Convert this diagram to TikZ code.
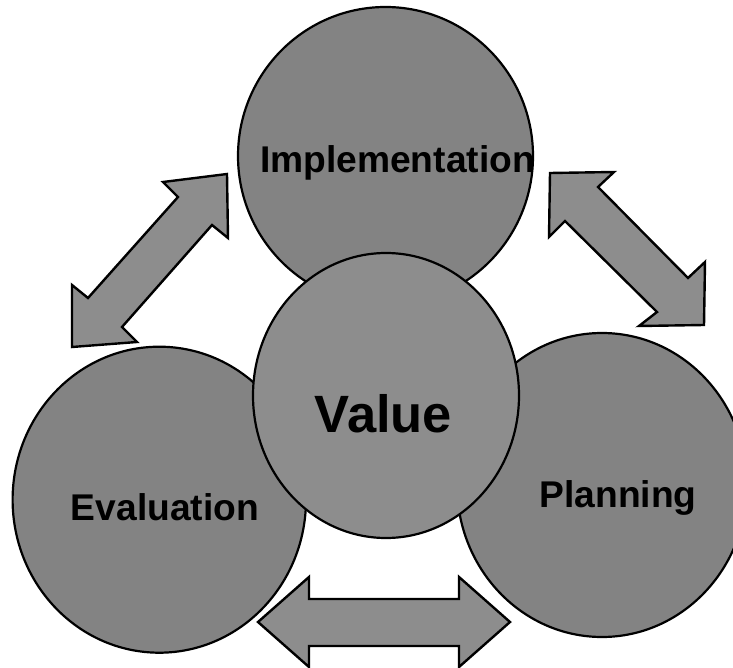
\documentclass[tikz,border=0pt]{standalone}
\usepackage{fontspec}
\setmainfont{Liberation Sans}
\usepackage{xcolor}

\definecolor{discgray}{HTML}{838383}
\definecolor{coregray}{HTML}{8D8D8D}

\begin{document}
\begin{tikzpicture}[x=1pt,y=-1pt,line join=miter,
    disc/.style={draw=black, fill=discgray, line width=2.2pt},
    core/.style={draw=black, fill=coregray, line width=2.2pt},
    blockarrow/.style={draw=black, fill=coregray, line width=2.4pt},
    phase/.style={font=\fontsize{37.2}{40}\selectfont\bfseries, anchor=base, inner sep=0pt}]
            % page area
            \clip (0,0) rectangle (733,668);
            \fill[white] (0,0) rectangle (733,668);

            % double arrows between the outer discs
            \draw[blockarrow] (227,174) -- (163,182) -- (178,197) -- (88,298) -- (72,285) -- (72,347)
                -- (137,342) -- (122,327) -- (212,225) -- (228,238) -- cycle;
            \draw[blockarrow] (550,173) -- (614,172) -- (598,187) -- (688,278) -- (705,262) -- (704,325)
                -- (639,326) -- (657,312) -- (565,221) -- (549,237) -- cycle;
            \draw[blockarrow] (258,622) -- (309,577) -- (309,599) -- (459,599) -- (459,577) -- (510,622)
                -- (459,667) -- (459,646) -- (309,646) -- (309,667) -- cycle;

            % outer discs
            \draw[disc] (385.5,156) ellipse (147.5 and 149);
            \draw[disc] (159.3,499.7) ellipse (146.7 and 153);
            \draw[disc] (602,485) ellipse (145 and 152);

            % centre disc on top
            \draw[core] (386,395.5) ellipse (133 and 142.5);

            % labels
            \node[phase] (implementation) at (397.5,172.5) {Implementation};
            \node[phase] (evaluation) at (165,520.7) {Evaluation};
            \node[phase] (planning) at (618,507) {Planning};
            \node[phase, font=\fontsize{52.5}{56}\selectfont\bfseries] (value) at (383.5,432) {Value};

        \end{tikzpicture}
\end{document}
